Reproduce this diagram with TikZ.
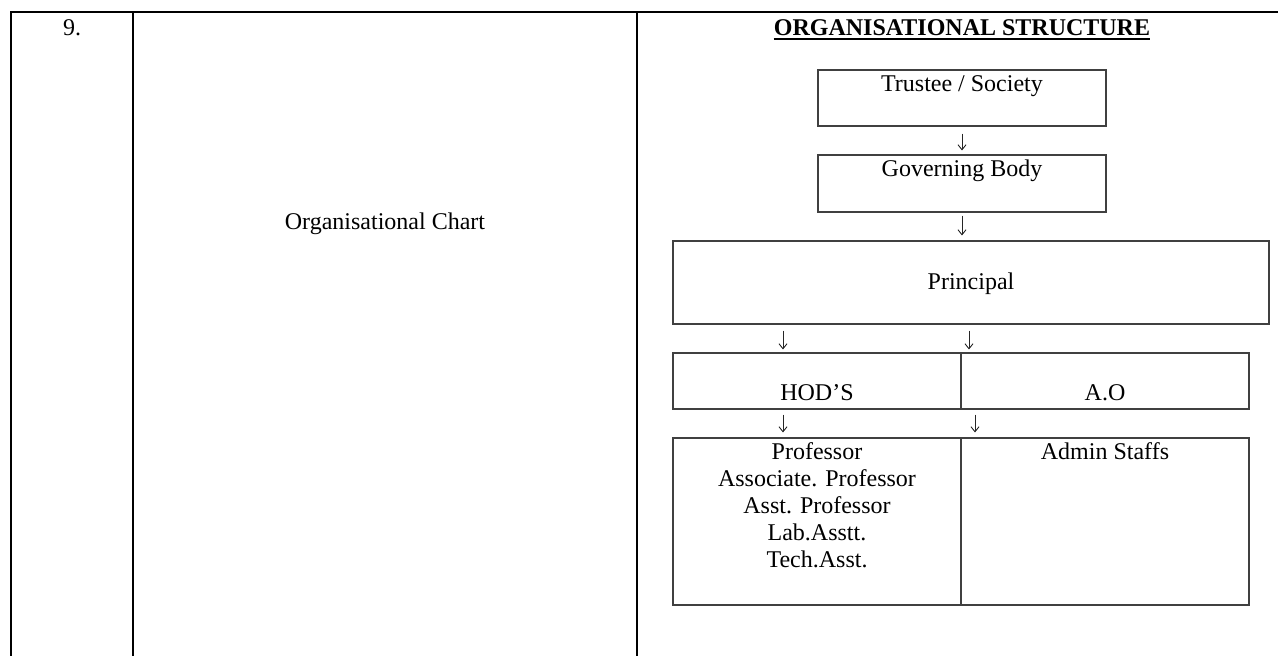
\documentclass[tikz,border=0pt]{standalone}
\usepackage{fontspec}
\setmainfont{Liberation Serif}
\usetikzlibrary{arrows.meta}
\begin{document}
\begin{tikzpicture}[x=1pt,y=-1pt,
  tab/.style={line width=1.4pt, draw=black},
  box/.style={draw=black!75, line width=1.1pt, inner sep=0pt, rectangle},
  txt/.style={inner sep=0pt, font=\fontsize{24}{27}\selectfont},
  arr/.style={line width=0.9pt, draw=black!85, -{Straight Barb[length=5pt,width=8pt]}}]
\useasboundingbox (0,0) rectangle (1278,656);
% table frame
\draw[tab] (11,656) -- (11,12) -- (1278,12);
\draw[tab] (133,12) -- (133,656);
\draw[tab] (637,12) -- (637,656);
% table texts
\node[txt, anchor=base] (num) at (72,35) {9.};
\node[txt, anchor=base] (chart) at (385,229) {Organisational Chart};
\node[txt, anchor=base, font=\fontsize{24}{27}\selectfont\bfseries] (title) at (962,35) {ORGANISATIONAL STRUCTURE};
\draw[line width=1.8pt] ([yshift=-3.8pt]title.base west) -- ([yshift=-3.8pt]title.base east);
% boxes
\node[box, minimum width=288pt, minimum height=56pt] (trustee) at (962,98) {};
\node[box, minimum width=288pt, minimum height=57pt] (gov) at (962,183.5) {};
\node[box, minimum width=596pt, minimum height=83pt] (principal) at (971,282.5) {};
\node[box, minimum width=288pt, minimum height=56pt] (hod) at (817,381) {};
\node[box, minimum width=288pt, minimum height=56pt] (ao) at (1105,381) {};
\node[box, minimum width=288pt, minimum height=167pt] (prof) at (817,521.5) {};
\node[box, minimum width=288pt, minimum height=167pt] (admin) at (1105,521.5) {};
% box texts
\node[txt, anchor=base] (ttrustee) at (962,91) {Trustee / Society};
\node[txt, anchor=base] (tgov) at (962,176) {Governing Body};
\node[txt, anchor=base] (tprincipal) at (971,289) {Principal};
\node[txt, anchor=base] (thod) at (817,400) {HOD’S};
\node[txt, anchor=base] (tao) at (1105,400) {A.O};
\node[txt, anchor=north, align=center] (tprof) at (817,442.6) {Professor\\Associate. Professor\\Asst. Professor\\Lab.Asstt.\\Tech.Asst.};
\node[txt, anchor=base] (tadmin) at (1105,459) {Admin Staffs};
% arrows
\draw[arr, shorten <=7pt, shorten >=4pt] (trustee.south) -- (gov.north);
\draw[arr, shorten <=3pt, shorten >=5pt] (gov.south) -- (gov.south |- principal.north);
\draw[arr, shorten <=6pt, shorten >=3pt] (783,0 |- principal.south) -- (783,0 |- hod.north);
\draw[arr, shorten <=6pt, shorten >=3pt] (969,0 |- principal.south) -- (969,0 |- ao.north);
\draw[arr, shorten <=5pt, shorten >=5pt] (783,0 |- hod.south) -- (783,0 |- prof.north);
\draw[arr, shorten <=5pt, shorten >=5pt] (975,0 |- ao.south) -- (975,0 |- admin.north);
\end{tikzpicture}
\end{document}
